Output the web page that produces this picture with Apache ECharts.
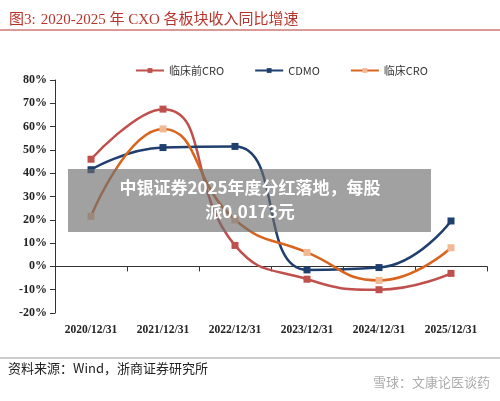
<!DOCTYPE html><html><head><meta charset="utf-8"><script src="https://cdn.jsdelivr.net/npm/echarts@6/dist/echarts.min.js"></script></head><body style="margin:0"><div id="c" style="width:500px;height:401px"></div><script>
const categories=['2020/12/31','2021/12/31','2022/12/31','2023/12/31','2024/12/31','2025/12/31'];
const preCRO=[46,67.5,9,-5.5,-10,-3];
const cdmo=[41.5,51,51.5,-1.5,-0.5,19.5];
const clinCRO=[21.5,59,20,6,-6,8];
const yTicks={min:-20,max:80,interval:10};
const c=echarts.init(document.getElementById('c'));
const mk=(n,d,col,sym)=>({name:n,type:'line',data:d,smooth:0.5,symbol:'rect',symbolSize:7,lineStyle:{color:col,width:2.5},itemStyle:{color:sym||col},color:col});
c.setOption({animation:false,backgroundColor:'#fff',
title:{text:'{a|图3:} {b|2020-2025 年 CXO 各板块收入同比增速}',left:4,top:6,textStyle:{rich:{a:{color:'#b8332a',fontSize:15,fontWeight:'normal',fontFamily:'Liberation Serif, Noto Sans CJK SC'},b:{color:'#b8332a',fontSize:15,fontWeight:'normal',fontFamily:'Liberation Serif, Noto Sans CJK SC'}}}},
legend:{top:60,left:130,itemWidth:28,itemHeight:6,itemGap:30,textStyle:{fontSize:11,color:'#333',fontFamily:'Noto Sans CJK SC'}},
grid:{left:55,right:13,top:80,bottom:88},
xAxis:{type:'category',data:categories,axisLine:{onZero:true,lineStyle:{color:'#333'}},axisTick:{show:true,lineStyle:{color:'#333'}},axisLabel:{interval:0,fontSize:11.5,fontWeight:'bold',color:'#222',fontFamily:'Liberation Serif',margin:11}},
yAxis:{type:'value',...yTicks,axisLine:{show:true,lineStyle:{color:'#333'}},axisTick:{show:true},splitLine:{show:false},axisLabel:{formatter:'{value}%',fontSize:12,fontWeight:'bold',color:'#222',fontFamily:'Liberation Serif'}},
series:[mk('临床前CRO',preCRO,'#c0504d'),mk('CDMO',cdmo,'#1f3f6e'),mk('临床CRO',clinCRO,'#d8641e','#f2b894')],
graphic:[
{type:'line',shape:{x1:0,y1:30,x2:500,y2:30},style:{stroke:'#b8332a',lineWidth:1}},
{type:'line',shape:{x1:0,y1:358,x2:500,y2:358},style:{stroke:'#999',lineWidth:1}},
{type:'text',left:8,top:362,style:{text:'资料来源：Wind，浙商证券研究所',fontSize:13,fill:'#222',fontFamily:'Noto Sans CJK SC'}},
{type:'text',right:10,top:376,style:{text:'雪球：文康论医谈药',fontSize:13,fill:'rgba(150,150,150,0.8)',fontFamily:'Noto Sans CJK SC'}},
{type:'rect',shape:{x:68,y:169,width:363,height:63},style:{fill:'rgba(110,110,110,0.65)'},z:100},
{type:'text',x:250,y:200,style:{text:'中银证券2025年度分红落地，每股\n派0.0173元',align:'center',verticalAlign:'middle',fontSize:17,fontWeight:'bold',lineHeight:24,fill:'#fff',fontFamily:'Noto Sans CJK SC'},z:101}
]});
</script></body></html>
